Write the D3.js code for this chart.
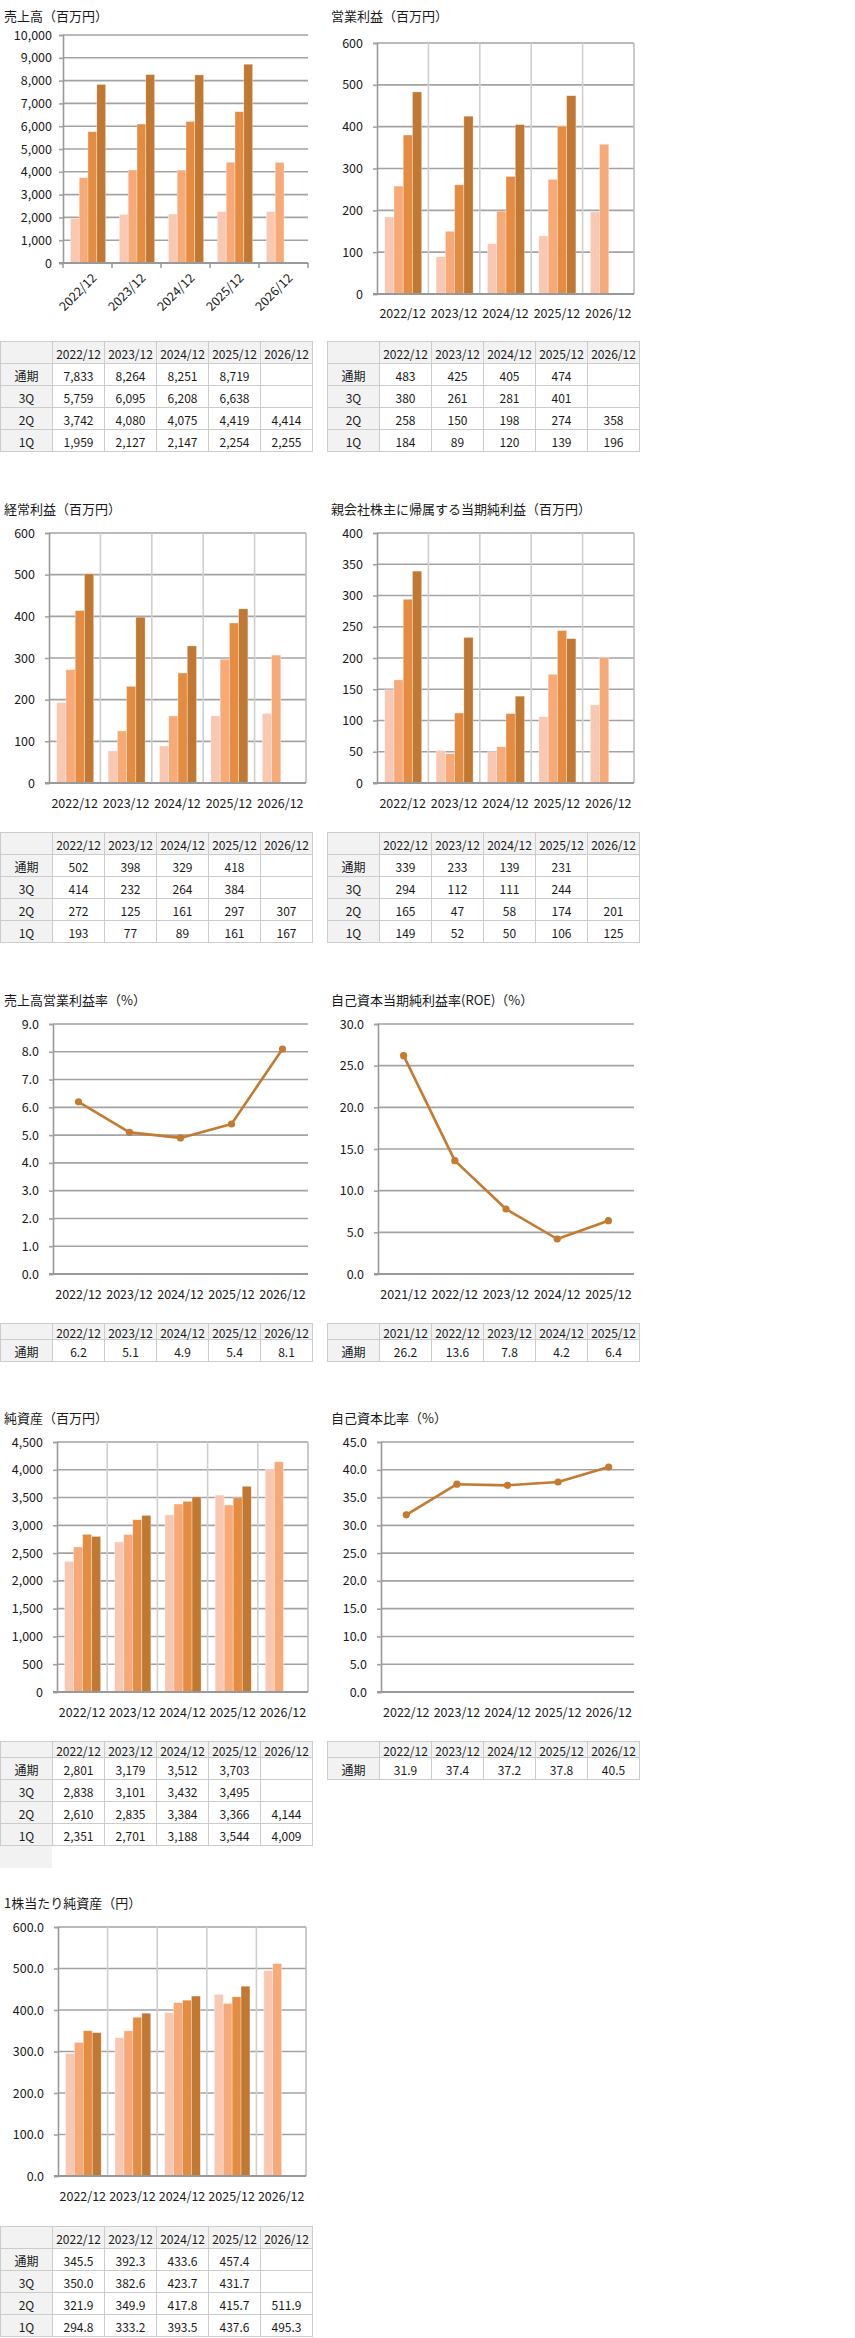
<!DOCTYPE html>
<html><head><meta charset="utf-8">
<script src="https://cdn.jsdelivr.net/npm/d3@7"></script>
<style>
body{margin:0;background:#fff;}
svg{display:block;font-family:"Noto Sans CJK JP","Noto Sans",sans-serif;}
</style></head>
<body>
<svg id="c" width="855" height="2338"></svg>
<script>
// ---------- DATA ----------
const years = ["2022/12","2023/12","2024/12","2025/12","2026/12"];
const roeYears = ["2021/12","2022/12","2023/12","2024/12","2025/12"];
const seriesOrder = ["1Q","2Q","3Q","通期"];
const tableRows = ["通期","3Q","2Q","1Q"];

const sales_1Q = [1959,2127,2147,2254,2255];
const sales_2Q = [3742,4080,4075,4419,4414];
const sales_3Q = [5759,6095,6208,6638,null];
const sales_FY = [7833,8264,8251,8719,null];

const op_1Q = [184,89,120,139,196];
const op_2Q = [258,150,198,274,358];
const op_3Q = [380,261,281,401,null];
const op_FY = [483,425,405,474,null];

const ord_1Q = [193,77,89,161,167];
const ord_2Q = [272,125,161,297,307];
const ord_3Q = [414,232,264,384,null];
const ord_FY = [502,398,329,418,null];

const ni_1Q = [149,52,50,106,125];
const ni_2Q = [165,47,58,174,201];
const ni_3Q = [294,112,111,244,null];
const ni_FY = [339,233,139,231,null];

const opMargin = [6.2,5.1,4.9,5.4,8.1];
const roe = [26.2,13.6,7.8,4.2,6.4];

const na_1Q = [2351,2701,3188,3544,4009];
const na_2Q = [2610,2835,3384,3366,4144];
const na_3Q = [2838,3101,3432,3495,null];
const na_FY = [2801,3179,3512,3703,null];

const equityRatio = [31.9,37.4,37.2,37.8,40.5];

const bps_1Q = [294.8,333.2,393.5,437.6,495.3];
const bps_2Q = [321.9,349.9,417.8,415.7,511.9];
const bps_3Q = [350.0,382.6,423.7,431.7,null];
const bps_FY = [345.5,392.3,433.6,457.4,null];

const colors = {"1Q":"#f9c8b3","2Q":"#f7aa78","3Q":"#e48c42","通期":"#c07832"};
const lineColor = "#c47a30";

// ---------- PANELS ----------
const panels = [
 {type:"bar",title:"売上高（百万円）",tx:4,ty:15,cats:years,data:{"1Q":sales_1Q,"2Q":sales_2Q,"3Q":sales_3Q,"通期":sales_FY},
  L:63,R:308,T:35,B:263,max:10000,step:1000,fmt:d3.format(","),rot:true,vgrid:false,labY:0,
  tabX:0,tabY:341,hdrH:22},
 {type:"bar",title:"営業利益（百万円）",tx:331,ty:15,cats:years,data:{"1Q":op_1Q,"2Q":op_2Q,"3Q":op_3Q,"通期":op_FY},
  L:377,R:634,T:43,B:294,max:600,step:100,fmt:d3.format("d"),rot:false,vgrid:true,labY:312,
  tabX:327,tabY:341,hdrH:22},
 {type:"bar",title:"経常利益（百万円）",tx:4,ty:508,cats:years,data:{"1Q":ord_1Q,"2Q":ord_2Q,"3Q":ord_3Q,"通期":ord_FY},
  L:49,R:306,T:533,B:783,max:600,step:100,fmt:d3.format("d"),rot:false,vgrid:true,labY:802,
  tabX:0,tabY:832,hdrH:22},
 {type:"bar",title:"親会社株主に帰属する当期純利益（百万円）",tx:331,ty:508,cats:years,data:{"1Q":ni_1Q,"2Q":ni_2Q,"3Q":ni_3Q,"通期":ni_FY},
  L:377,R:634,T:533,B:783,max:400,step:50,fmt:d3.format("d"),rot:false,vgrid:true,labY:802,
  tabX:327,tabY:832,hdrH:22},
 {type:"line",title:"売上高営業利益率（%）",tx:4,ty:999,cats:years,values:opMargin,
  L:53,R:308,T:1024,B:1274,max:9,step:1,fmt:d3.format(".1f"),labY:1293,
  tabX:0,tabY:1323,hdrH:16},
 {type:"line",title:"自己資本当期純利益率(ROE)（%）",tx:331,ty:999,cats:roeYears,values:roe,
  L:378,R:634,T:1024,B:1274,max:30,step:5,fmt:d3.format(".1f"),labY:1293,
  tabX:327,tabY:1323,hdrH:16},
 {type:"bar",title:"純資産（百万円）",tx:4,ty:1417,cats:years,data:{"1Q":na_1Q,"2Q":na_2Q,"3Q":na_3Q,"通期":na_FY},
  L:57,R:308,T:1442,B:1692,max:4500,step:500,fmt:d3.format(","),rot:false,vgrid:true,labY:1711,
  tabX:0,tabY:1741,hdrH:16,extraCell:true},
 {type:"line",title:"自己資本比率（%）",tx:331,ty:1417,cats:years,values:equityRatio,
  L:381,R:634,T:1442,B:1692,max:45,step:5,fmt:d3.format(".1f"),labY:1711,
  tabX:327,tabY:1741,hdrH:16},
 {type:"bar",title:"1株当たり純資産（円）",tx:4,ty:1902,cats:years,data:{"1Q":bps_1Q,"2Q":bps_2Q,"3Q":bps_3Q,"通期":bps_FY},
  L:58,R:306,T:1927,B:2176,max:600,step:100,fmt:d3.format(".1f"),rot:false,vgrid:true,labY:2195,
  tabX:0,tabY:2226,hdrH:22},
];

const svg = d3.select("#c");
const textColor = "#1a1a1a";
const gridColor = "#a3a3a3";

function drawPanel(p){
  const g = svg.append("g");
  g.append("text").attr("x",p.tx).attr("y",p.ty).attr("dominant-baseline","central")
    .attr("font-size",13).attr("fill",textColor).text(p.title);

  const y = d3.scaleLinear().domain([0,p.max]).range([p.B,p.T]);
  const x = d3.scaleBand().domain(p.cats).range([p.L,p.R]).padding(0);
  const ticks = d3.range(0,p.max+p.step/2,p.step);

  // horizontal gridlines
  g.append("g").selectAll("line").data(ticks.filter(t=>t>0)).join("line")
    .attr("x1",p.L).attr("x2",p.R).attr("y1",d=>y(d)).attr("y2",d=>y(d))
    .attr("stroke",gridColor).attr("stroke-width",1.6);

  // vertical gridlines
  if(p.type==="bar" && p.vgrid){
    const bounds = p.cats.map(c=>x(c)+x.bandwidth()).slice(0,-1);
    g.append("g").selectAll("line").data(bounds).join("line")
      .attr("x1",d=>d).attr("x2",d=>d).attr("y1",p.T).attr("y2",p.B)
      .attr("stroke","#cfcfcf").attr("stroke-width",1.6);
    g.append("line").attr("x1",p.R).attr("x2",p.R).attr("y1",p.T).attr("y2",p.B)
      .attr("stroke","#bdbdbd").attr("stroke-width",1.6);
  }

  // y axis
  const ya = d3.axisLeft(y).tickValues(ticks).tickSize(4).tickPadding(p.rot?7:10).tickFormat(p.fmt);
  const yg = g.append("g").attr("transform",`translate(${p.L},0)`).call(ya);
  yg.select(".domain").attr("stroke","#999").attr("stroke-width",1.6);
  yg.selectAll(".tick line").attr("stroke",gridColor).attr("stroke-width",1.6);
  yg.selectAll(".tick text").attr("font-size",12.5).attr("fill",textColor)
    .attr("font-family",'"Noto Sans CJK JP","Noto Sans",sans-serif');

  if(p.type==="bar"){
    const gw = x.bandwidth()*0.72;
    const inner = d3.scaleBand().domain(seriesOrder).range([0,gw]).padding(0);
    const flat = [];
    p.cats.forEach((c,i)=>seriesOrder.forEach(s=>{
      const v = p.data[s][i];
      if(v!=null) flat.push({c,s,v});
    }));
    g.append("g").selectAll("rect").data(flat).join("rect")
      .attr("x",d=>x(d.c)+(x.bandwidth()-gw)/2+inner(d.s)+0.5)
      .attr("width",inner.bandwidth())
      .attr("y",d=>y(d.v)).attr("height",d=>p.B-y(d.v))
      .attr("fill",d=>colors[d.s])
      .attr("stroke","rgba(255,255,255,0.55)").attr("stroke-width",0.6);
  } else {
    const pts = p.cats.map((c,i)=>({c,v:p.values[i]}));
    const line = d3.line().x(d=>x(d.c)+x.bandwidth()/2).y(d=>y(d.v));
    g.append("path").datum(pts).attr("d",line).attr("fill","none")
      .attr("stroke",lineColor).attr("stroke-width",2.6).attr("stroke-linejoin","round");
    g.append("g").selectAll("circle").data(pts).join("circle")
      .attr("cx",d=>x(d.c)+x.bandwidth()/2).attr("cy",d=>y(d.v)).attr("r",3.6)
      .attr("fill",lineColor);
  }

  // bottom axis line
  g.append("line").attr("x1",p.L-4).attr("x2",p.R).attr("y1",p.B).attr("y2",p.B)
    .attr("stroke","#999").attr("stroke-width",1.8);

  // category labels
  if(p.rot){
    const bounds = [p.L].concat(p.cats.map(c=>x(c)+x.bandwidth()));
    g.append("g").selectAll("line").data(bounds).join("line")
      .attr("x1",d=>d).attr("x2",d=>d).attr("y1",p.B).attr("y2",p.B+5)
      .attr("stroke","#999").attr("stroke-width",1.5);
    g.append("g").selectAll("text").data(p.cats).join("text")
      .attr("transform",c=>`translate(${x(c)+x.bandwidth()/2+6},${p.B+12}) rotate(-45)`)
      .attr("text-anchor","end").attr("dominant-baseline","central")
      .attr("font-size",12.5).attr("fill",textColor).text(c=>c);
  } else {
    g.append("g").selectAll("text").data(p.cats).join("text")
      .attr("x",c=>x(c)+x.bandwidth()/2).attr("y",p.labY)
      .attr("text-anchor","middle").attr("dominant-baseline","central")
      .attr("font-size",12.5).attr("fill",textColor).text(c=>c);
  }

  drawTable(g,p);
}

function drawTable(g,p){
  const cw = 52, rh = 22;
  const cols = [""].concat(p.cats);
  let rows;
  if(p.type==="bar"){
    rows = tableRows.map(r=>{
      const key = r;
      return [r].concat(p.cats.map((c,i)=>{const v=p.data[key][i];return v==null?"":p.fmt(v);}));
    });
  } else {
    rows = [["通期"].concat(p.values.map(v=>p.fmt(v)))];
  }
  const cells = [];
  cols.forEach((c,j)=>cells.push({x:p.tabX+j*cw,y:p.tabY,h:p.hdrH,t:c,bg:"#f2f2f2"}));
  rows.forEach((r,i)=>r.forEach((t,j)=>cells.push({
    x:p.tabX+j*cw,y:p.tabY+p.hdrH+i*rh,h:rh,t,bg:j===0?"#f2f2f2":"#ffffff"})));
  const tg = g.append("g");
  tg.selectAll("rect").data(cells).join("rect")
    .attr("x",d=>d.x+0.5).attr("y",d=>d.y+0.5).attr("width",cw).attr("height",d=>d.h)
    .attr("fill",d=>d.bg).attr("stroke","#cccccc").attr("stroke-width",1);
  tg.selectAll("text").data(cells).join("text")
    .attr("x",d=>d.x+cw/2+0.5).attr("y",d=>d.y+d.h/2+1)
    .attr("text-anchor","middle").attr("dominant-baseline","central")
    .attr("font-size",12).attr("fill",textColor).text(d=>d.t);
  if(p.extraCell){
    tg.append("rect").attr("x",p.tabX).attr("y",p.tabY+p.hdrH+rows.length*rh+1)
      .attr("width",cw).attr("height",rh).attr("fill","#f2f2f2");
  }
}

panels.forEach(drawPanel);
</script>
</body></html>
